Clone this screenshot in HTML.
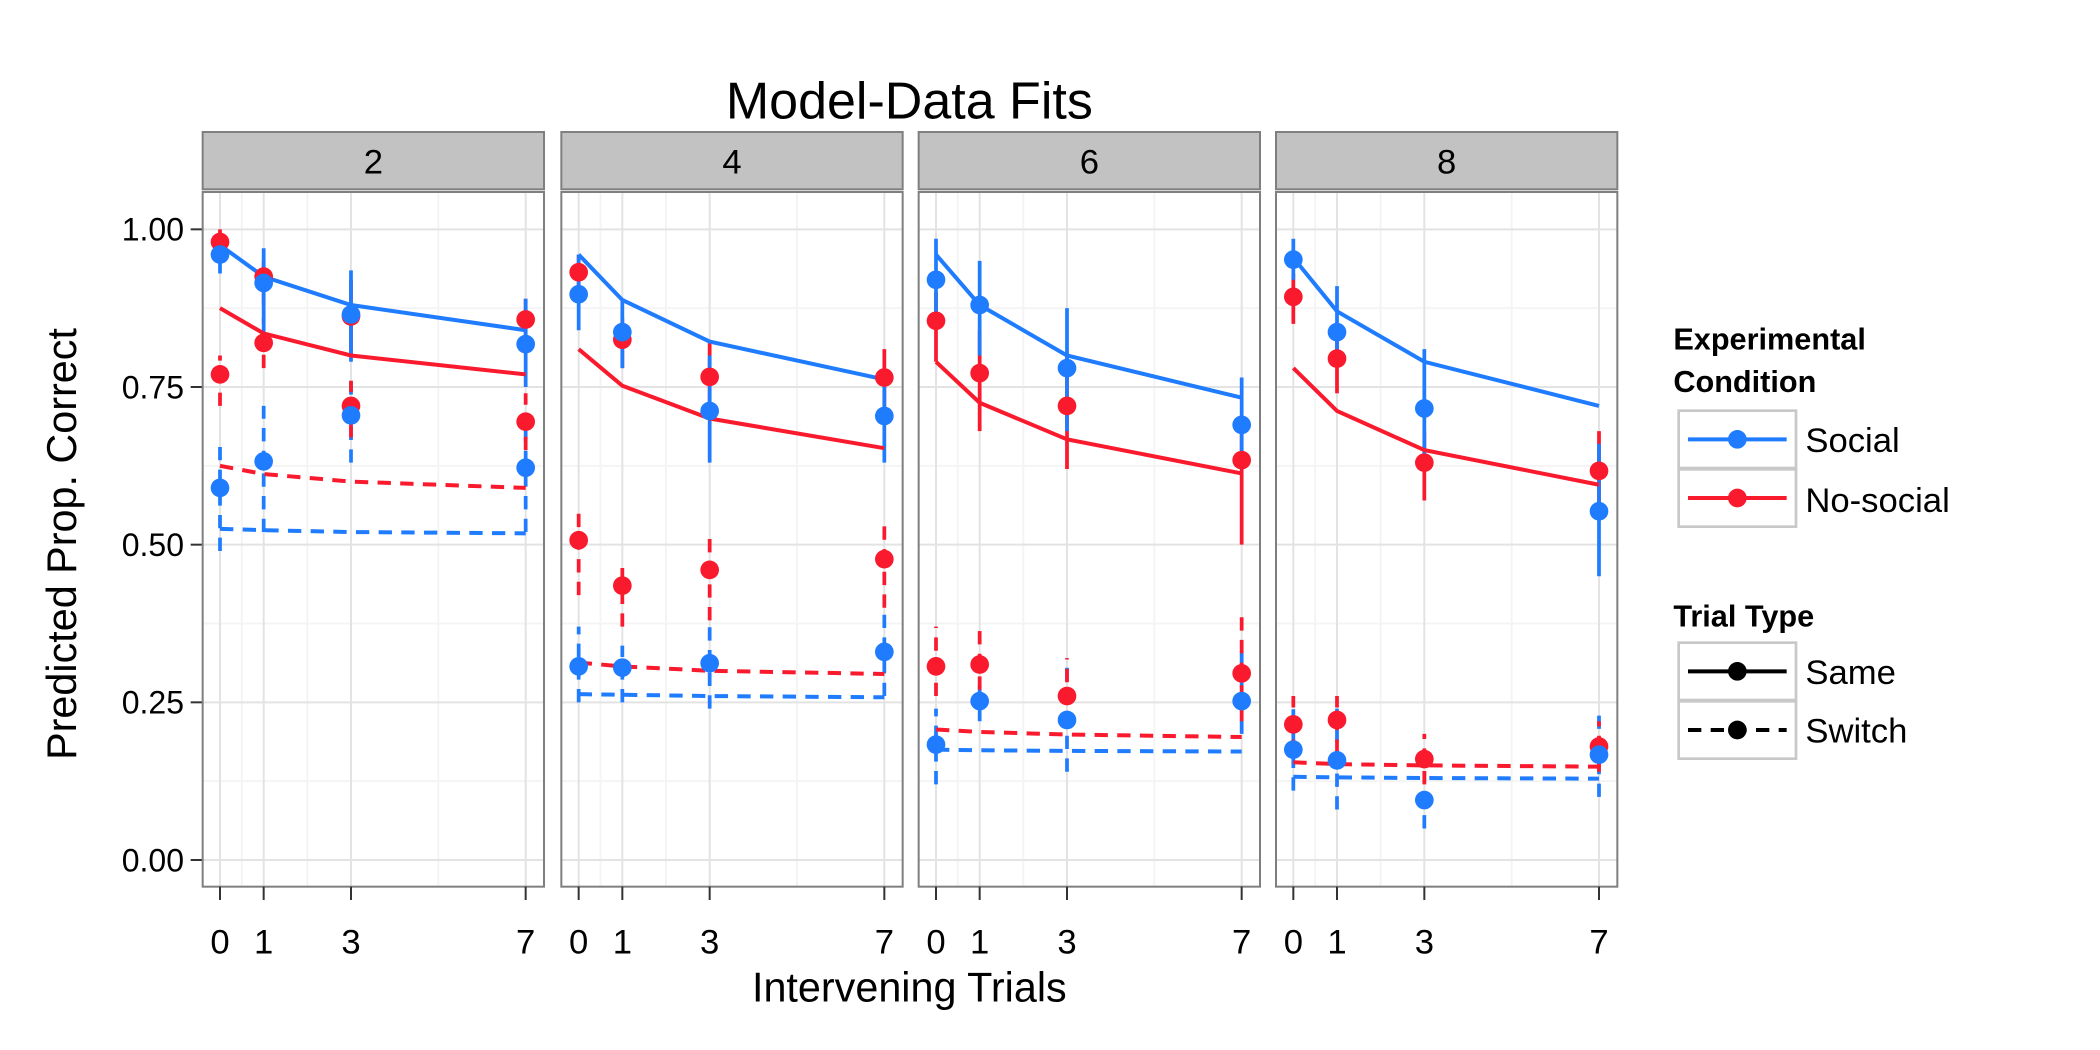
<!DOCTYPE html>
<html><head><meta charset="utf-8"><style>
html,body{margin:0;padding:0;background:#fff;}
svg{display:block;font-family:"Liberation Sans",sans-serif;}
</style></head><body>
<svg id="chart" width="2100" height="1050" viewBox="0 0 1575 787.5" xmlns="http://www.w3.org/2000/svg">
<rect width="1575" height="787.5" fill="#fff"/>
<text x="682" y="89" font-size="39" text-anchor="middle">Model-Data Fits</text>
<text x="0" y="0" font-size="31" text-anchor="middle" transform="translate(57,408) rotate(-90)">Predicted Prop. Correct</text>
<text x="682" y="751" font-size="31" text-anchor="middle">Intervening Trials</text>
<g id="panels"></g>
<g id="legend">
<text x="1255" y="262" font-size="23" font-weight="bold">Experimental</text>
<text x="1255" y="294" font-size="23" font-weight="bold">Condition</text>
<g>
<rect x="1259" y="308" width="88" height="43" fill="#fff" stroke="#c8c8c8" stroke-width="2"/>
<line x1="1266" y1="329.5" x2="1340" y2="329.5" stroke="#1f7cff" stroke-width="3"/>
<circle cx="1303" cy="329.5" r="7" fill="#1f7cff"/>
<text x="1354" y="339" font-size="26">Social</text></g>
<g>
<rect x="1259" y="352" width="88" height="43" fill="#fff" stroke="#c8c8c8" stroke-width="2"/>
<line x1="1266" y1="373.5" x2="1340" y2="373.5" stroke="#fa1a2e" stroke-width="3"/>
<circle cx="1303" cy="373.5" r="7" fill="#fa1a2e"/>
<text x="1354" y="384" font-size="26">No-social</text></g>
<text x="1255" y="470" font-size="23" font-weight="bold">Trial Type</text>
<g>
<rect x="1259" y="482" width="88" height="43" fill="#fff" stroke="#c8c8c8" stroke-width="2"/>
<line x1="1266" y1="503.5" x2="1340" y2="503.5" stroke="#000" stroke-width="3"/>
<circle cx="1303" cy="503.5" r="7" fill="#000"/>
<text x="1354" y="513" font-size="26">Same</text></g>
<g>
<rect x="1259" y="526" width="88" height="43" fill="#fff" stroke="#c8c8c8" stroke-width="2"/>
<line x1="1266" y1="547.5" x2="1340" y2="547.5" stroke="#000" stroke-width="3" stroke-dasharray="10,7"/>
<circle cx="1303" cy="547.5" r="7" fill="#000"/>
<text x="1354" y="557" font-size="26">Switch</text></g>
</g>
</svg>
<script>
const panelLabels = ["2","4","6","8"];
const xCats = [0,1,3,7];
const yTicks = [0,0.25,0.5,0.75,1.0];
const yTickLabels = ["0.00","0.25","0.50","0.75","1.00"];
// model lines per panel
const modelSocialSame = [[0.975,0.925,0.88,0.84],[0.96,0.888,0.822,0.762],[0.96,0.88,0.80,0.733],[0.955,0.87,0.79,0.72]];
const modelNoSocialSame = [[0.875,0.835,0.80,0.77],[0.81,0.752,0.70,0.653],[0.79,0.725,0.667,0.613],[0.78,0.712,0.65,0.595]];
const modelNoSocialSwitch = [[0.625,0.612,0.60,0.59],[0.313,0.307,0.30,0.295],[0.207,0.203,0.199,0.195],[0.155,0.152,0.15,0.148]];
const modelSocialSwitch = [[0.525,0.523,0.52,0.518],[0.263,0.262,0.26,0.258],[0.175,0.174,0.173,0.172],[0.132,0.131,0.13,0.129]];
// data points
const dataSocialSame = [[0.96,0.915,0.865,0.818],[0.897,0.837,0.712,0.704],[0.92,0.88,0.78,0.69],[0.952,0.837,0.716,0.553]];
const dataNoSocialSame = [[0.98,0.925,0.862,0.857],[0.932,0.825,0.766,0.765],[0.855,0.772,0.72,0.634],[0.893,0.795,0.63,0.617]];
const dataSocialSwitch = [[0.59,0.632,0.705,0.622],[0.307,0.305,0.312,0.33],[0.183,0.252,0.222,0.252],[0.175,0.158,0.095,0.167]];
const dataNoSocialSwitch = [[0.77,0.82,0.72,0.695],[0.507,0.435,0.46,0.477],[0.307,0.31,0.26,0.296],[0.215,0.222,0.16,0.18]];
// error bar bounds
const loSocialSame = [[0.93,0.83,0.79,0.75],[0.84,0.78,0.63,0.63],[0.86,0.80,0.68,0.62],[0.92,0.79,0.63,0.45]];
const hiSocialSame = [[0.99,0.97,0.935,0.89],[0.96,0.89,0.80,0.77],[0.985,0.95,0.875,0.765],[0.985,0.91,0.81,0.66]];
const loNoSocialSame = [[0.96,0.88,0.80,0.82],[0.90,0.78,0.70,0.72],[0.79,0.68,0.62,0.50],[0.85,0.74,0.57,0.55]];
const hiNoSocialSame = [[1.0,0.95,0.92,0.89],[0.96,0.86,0.82,0.81],[0.90,0.84,0.80,0.68],[0.93,0.84,0.68,0.68]];
const loSocialSwitch = [[0.49,0.52,0.63,0.52],[0.25,0.25,0.24,0.26],[0.12,0.22,0.14,0.20],[0.11,0.08,0.05,0.10]];
const hiSocialSwitch = [[0.66,0.72,0.77,0.70],[0.37,0.34,0.37,0.39],[0.24,0.29,0.32,0.34],[0.25,0.24,0.14,0.24]];
const loNoSocialSwitch = [[0.72,0.78,0.67,0.65],[0.42,0.37,0.38,0.40],[0.26,0.27,0.21,0.22],[0.17,0.17,0.12,0.14]];
const hiNoSocialSwitch = [[0.80,0.86,0.76,0.74],[0.56,0.47,0.52,0.53],[0.37,0.37,0.32,0.39],[0.26,0.26,0.20,0.22]];

const BLUE="#1f7cff", RED="#fa1a2e";
const panelLefts=[152,421,689,957], panelW=256, plotTop=144, plotBot=665;
const NS="http://www.w3.org/2000/svg";
function yS(v){return 645-v*473;}
function xS(p,v){return panelLefts[p]+13+v*32.75;}
function mk(tag,attrs,parent){const e=document.createElementNS(NS,tag);for(const k in attrs)e.setAttribute(k,attrs[k]);parent.appendChild(e);return e;}
const root=document.getElementById('panels');
yTicks.forEach((t,i)=>{
  const tx=mk('text',{x:138,y:yS(t)+8.5,'font-size':24,'text-anchor':'end',fill:'#000'},root);
  
  
  tx.textContent=yTickLabels[i];
  mk('line',{x1:143,x2:152,y1:yS(t),y2:yS(t),stroke:'#333','stroke-width':1.5},root);
});
panelLabels.forEach((lab,p)=>{
  const g=mk('g',{},root);
  
  
  const L=panelLefts[p];
  const strip=mk('rect',{x:L,y:99,width:panelW,height:43,fill:'#c2c2c2',stroke:'#7f7f7f','stroke-width':1.5},g);
  
  
  const st=mk('text',{x:L+panelW/2,y:130,'font-size':26,'text-anchor':'middle'},g);
  
  
  st.textContent=lab;
  mk('rect',{x:L,y:plotTop,width:panelW,height:plotBot-plotTop,fill:'#fff'},g);
  [0.125,0.375,0.625,0.875].forEach(t=>mk('line',{x1:L,x2:L+panelW,y1:yS(t),y2:yS(t),stroke:'#f4f4f4','stroke-width':1.5},g));
  [0.5,2,5].forEach(t=>mk('line',{x1:xS(p,t),x2:xS(p,t),y1:plotTop,y2:plotBot,stroke:'#f4f4f4','stroke-width':1.5},g));
  yTicks.forEach(t=>mk('line',{x1:L,x2:L+panelW,y1:yS(t),y2:yS(t),stroke:'#e3e3e3','stroke-width':1.5},g));
  xCats.forEach(t=>mk('line',{x1:xS(p,t),x2:xS(p,t),y1:plotTop,y2:plotBot,stroke:'#e3e3e3','stroke-width':1.5},g));
  const eb=(lo,hi,col,dash,name)=>xCats.forEach((c,i)=>{
    const l=mk('line',{x1:xS(p,c),x2:xS(p,c),y1:yS(lo[p][i]),y2:yS(hi[p][i]),stroke:col,'stroke-width':2.8},g);
    if(dash)l.setAttribute('stroke-dasharray','10,7');
    
    
  });
  eb(loSocialSwitch,hiSocialSwitch,BLUE,true,'errorbar-social-switch');
  eb(loNoSocialSwitch,hiNoSocialSwitch,RED,true,'errorbar-nosocial-switch');
  eb(loNoSocialSame,hiNoSocialSame,RED,false,'errorbar-nosocial-same');
  eb(loSocialSame,hiSocialSame,BLUE,false,'errorbar-social-same');
  const ln=(arr,col,dash,name)=>{
    const pts=xCats.map((c,i)=>xS(p,c)+','+yS(arr[p][i])).join(' ');
    const pl=mk('polyline',{points:pts,fill:'none',stroke:col,'stroke-width':3},g);
    if(dash)pl.setAttribute('stroke-dasharray','10,7');
    
    
  };
  ln(modelSocialSwitch,BLUE,true,'model-social-switch');
  ln(modelNoSocialSwitch,RED,true,'model-nosocial-switch');
  ln(modelNoSocialSame,RED,false,'model-nosocial-same');
  ln(modelSocialSame,BLUE,false,'model-social-same');
  const pt=(arr,col,name)=>xCats.forEach((c,i)=>{
    const ci=mk('circle',{cx:xS(p,c),cy:yS(arr[p][i]),r:7,fill:col},g);
    
    
  });
  pt(dataNoSocialSwitch,RED,'point-nosocial-switch');
  pt(dataNoSocialSame,RED,'point-nosocial-same');
  pt(dataSocialSwitch,BLUE,'point-social-switch');
  pt(dataSocialSame,BLUE,'point-social-same');
  mk('rect',{x:L,y:plotTop,width:panelW,height:plotBot-plotTop,fill:'none',stroke:'#7f7f7f','stroke-width':1.5},g);
  xCats.forEach(c=>{
    mk('line',{x1:xS(p,c),x2:xS(p,c),y1:plotBot,y2:plotBot+10,stroke:'#333','stroke-width':1.5},g);
    const t=mk('text',{x:xS(p,c),y:plotBot+50,'font-size':26,'text-anchor':'middle'},g);
    
    
    t.textContent=c;
  });
});
</script>
</body></html>
